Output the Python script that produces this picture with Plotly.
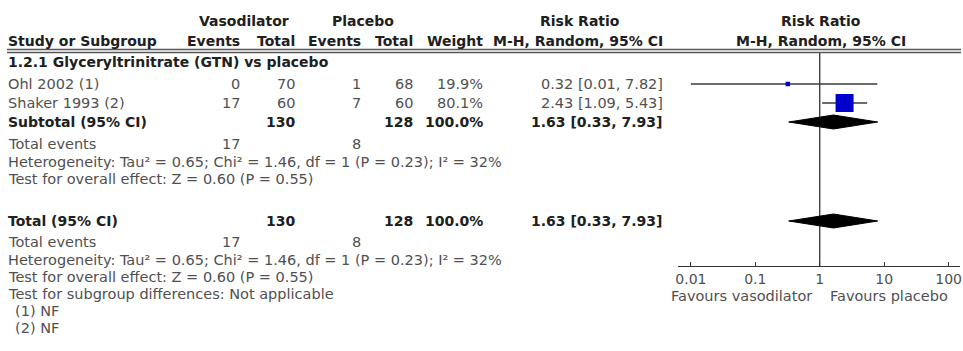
import plotly.graph_objects as go

# ---- study data -------------------------------------------------------------
group_title = "1.2.1 Glyceryltrinitrate (GTN) vs placebo"
studies = ["Ohl 2002 (1)", "Shaker 1993 (2)"]
vaso_events = [0, 17]
vaso_total = [70, 60]
plac_events = [1, 7]
plac_total = [68, 60]
weight_pct = [19.9, 80.1]
rr = [0.32, 2.43]
rr_low = [0.01, 1.09]
rr_high = [7.82, 5.43]

# pooled (random effects) result
pooled_rr = 1.63
pooled_low = 0.33
pooled_high = 7.93
pooled_weight = 100.0
sum_vaso_total = 130
sum_plac_total = 128
sum_vaso_events = 17
sum_plac_events = 8

# heterogeneity / overall effect statistics
tau2 = 0.65
chi2 = 1.46
het_df = 1
het_p = 0.23
i2 = 32
z_value = 0.60
z_p = 0.55

footnotes = ["(1) NF", "(2) NF"]

tick_values = [0.01, 0.1, 1, 10, 100]
tick_labels = ["0.01", "0.1", "1", "10", "100"]
favours_left = "Favours vasodilator"
favours_right = "Favours placebo"

# ---- layout constants (pixels) ----------------------------------------------
W, H = 963, 351
FONT = "DejaVu Sans"
FS = 14.5
FS_BOLD = 14
C_TXT = "#505050"
C_BOLD = "#202020"

row_y = dict(h1=21, h2=41, group=62, s0=84, s1=103, sub=122, sub_ev=144,
             sub_het=161.5, sub_z=179, tot=221, tot_ev=242, tot_het=259.5,
             tot_z=277, diff=294, fn1=311, fn2=328)
axis_y = 266
col_x = dict(label=3, ve=240, vt=296, pe=362, pt=414, w=485, ci=665)
hdr_vaso_x = 242
hdr_plac_x = 362
hdr_rr_left_x = 580
x_left_px, x_right_px = 678.5, 962.2
log_lo, log_hi = -2.2, 2.18

fig = go.Figure()
annotations = []


def txt(x, y, s, anchor="left", bold=False, color=None):
    annotations.append(dict(
        x=x / W, y=y, xref="paper", yref="y", text=f"<b>{s}</b>" if bold else s,
        showarrow=False, xanchor=anchor, yanchor="middle",
        font=dict(family=FONT, size=FS_BOLD if bold else FS,
                  color=color or (C_BOLD if bold else C_TXT)),
    ))


# headers
txt(hdr_vaso_x, row_y["h1"], "Vasodilator", "center", True)
txt(hdr_plac_x, row_y["h1"], "Placebo", "center", True)
txt(hdr_rr_left_x, row_y["h1"], "Risk Ratio", "center", True)
txt(822, row_y["h1"], "Risk Ratio", "center", True)
txt(col_x["label"], row_y["h2"], "Study or Subgroup", "left", True)
txt(col_x["ve"], row_y["h2"], "Events", "right", True)
txt(col_x["vt"], row_y["h2"], "Total", "right", True)
txt(col_x["pe"], row_y["h2"], "Events", "right", True)
txt(col_x["pt"], row_y["h2"], "Total", "right", True)
txt(col_x["w"], row_y["h2"], "Weight", "right", True)
txt(col_x["ci"], row_y["h2"], "M-H, Random, 95% CI", "right", True)
txt(822, row_y["h2"], "M-H, Random, 95% CI", "center", True)

txt(col_x["label"], row_y["group"], group_title, "left", True)

# study rows
study_rows = [row_y["s0"], row_y["s1"]]
for i, name in enumerate(studies):
    y = study_rows[i]
    txt(col_x["label"], y, name)
    txt(col_x["ve"], y, str(vaso_events[i]), "right")
    txt(col_x["vt"], y, str(vaso_total[i]), "right")
    txt(col_x["pe"], y, str(plac_events[i]), "right")
    txt(col_x["pt"], y, str(plac_total[i]), "right")
    txt(col_x["w"], y, f"{weight_pct[i]:.1f}%", "right")
    txt(col_x["ci"], y, f"{rr[i]:.2f} [{rr_low[i]:.2f}, {rr_high[i]:.2f}]", "right")

het_text = (f"Heterogeneity: Tau² = {tau2:.2f}; Chi² = {chi2:.2f}, "
            f"df = {het_df} (P = {het_p:.2f}); I² = {i2}%")
z_text = f"Test for overall effect: Z = {z_value:.2f} (P = {z_p:.2f})"
ci_pooled = f"{pooled_rr:.2f} [{pooled_low:.2f}, {pooled_high:.2f}]"

for key, label in (("sub", "Subtotal (95% CI)"), ("tot", "Total (95% CI)")):
    y = row_y[key]
    txt(col_x["label"], y, label, "left", True)
    txt(col_x["vt"], y, str(sum_vaso_total), "right", True)
    txt(col_x["pt"], y, str(sum_plac_total), "right", True)
    txt(col_x["w"], y, f"{pooled_weight:.1f}%", "right", True)
    txt(col_x["ci"], y, ci_pooled, "right", True)
    ev_y = row_y[key + "_ev"]
    txt(col_x["label"], ev_y, "Total events")
    txt(col_x["ve"], ev_y, str(sum_vaso_events), "right")
    txt(col_x["pe"], ev_y, str(sum_plac_events), "right")
    txt(col_x["label"], row_y[key + "_het"], het_text)
    txt(col_x["label"], row_y[key + "_z"], z_text)

txt(col_x["label"], row_y["diff"], "Test for subgroup differences: Not applicable")
txt(col_x["label"] + 7, row_y["fn1"], footnotes[0])
txt(col_x["label"] + 7, row_y["fn2"], footnotes[1])

# favours labels under the axis
txt(815, axis_y + 30, favours_left, "right")
txt(829, axis_y + 30, favours_right, "left")

# ---- forest plot marks --------------------------------------------------------
# line of no effect
fig.add_trace(go.Scatter(x=[1, 1], y=[53, axis_y], mode="lines",
                         line=dict(color="#333333", width=1.3), hoverinfo="skip"))

# confidence interval lines
ci_x, ci_y = [], []
for i in range(len(studies)):
    ci_x += [rr_low[i], rr_high[i], None]
    ci_y += [study_rows[i], study_rows[i], None]
fig.add_trace(go.Scatter(x=ci_x, y=ci_y, mode="lines",
                         line=dict(color="#3a3a3a", width=1.3), hoverinfo="skip"))

# study point estimates, box size by weight
fig.add_trace(go.Scatter(
    x=rr, y=study_rows, mode="markers",
    marker=dict(symbol="square", color="#0000cc", opacity=1,
                size=[18 * w / max(weight_pct) for w in weight_pct],
                line=dict(width=0)),
    hoverinfo="skip"))

# pooled diamonds
half_h = 7
for key in ("sub", "tot"):
    y = row_y[key]
    fig.add_trace(go.Scatter(
        x=[pooled_low, pooled_rr, pooled_high, pooled_rr, pooled_low],
        y=[y, y - half_h, y, y + half_h, y],
        mode="lines", fill="toself", fillcolor="#000000",
        line=dict(color="#000000", width=1), hoverinfo="skip"))

# header double rule
shapes = []
for yy in (49.5, 52.5):
    shapes.append(dict(type="line", xref="paper", yref="y", x0=4 / W, x1=1,
                       y0=yy, y1=yy, line=dict(color="#555555", width=1.3)))

fig.update_layout(
    width=W, height=H, margin=dict(l=0, r=0, t=0, b=0),
    paper_bgcolor="white", plot_bgcolor="white", showlegend=False,
    annotations=annotations, shapes=shapes,
    xaxis=dict(type="log", range=[log_lo, log_hi],
               domain=[x_left_px / W, x_right_px / W],
               anchor="free", position=1 - axis_y / H,
               showline=True, linecolor="#333333", linewidth=1.3,
               tickvals=tick_values, ticktext=tick_labels,
               ticks="inside", ticklen=4, tickcolor="#333333",
               ticklabeloverflow="allow",
               tickfont=dict(family=FONT, size=14, color=C_TXT),
               showgrid=False, zeroline=False, fixedrange=True),
    yaxis=dict(range=[H, 0], domain=[0, 1], visible=False, fixedrange=True),
)

fig.write_html("out.html")
